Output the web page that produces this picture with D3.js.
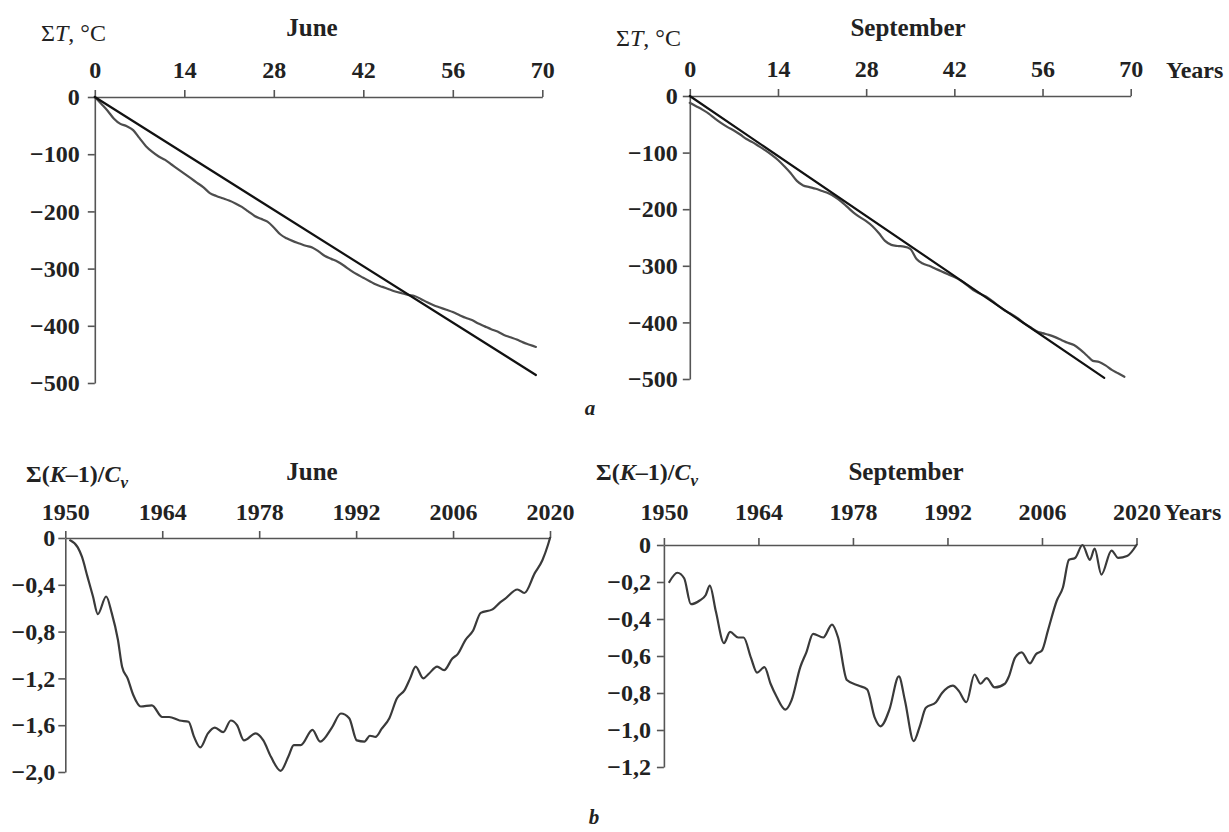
<!DOCTYPE html>
<html><head><meta charset="utf-8">
<script src="https://cdn.jsdelivr.net/npm/d3@7"></script>
<style>
html,body{margin:0;padding:0;background:#fff;}
svg{display:block;}
</style></head><body>
<svg id="chart" width="1229" height="832"></svg>
<script>
// ---------- data ----------
const yearTicksA = [0, 14, 28, 42, 56, 70];
const sumTTicks = [0, -100, -200, -300, -400, -500];
// cumulative temperature anomaly, index = year number 0..69
const juneSumT = [0,-12,-24,-38,-47,-51,-58,-72,-86,-96,-104,-110,-118,-126,-134,-142,-150,-158,-168,-173,
  -177,-181,-186,-192,-200,-208,-213,-218,-228,-240,-247,-252,-256,-260,-263,-270,-278,-283,-288,-295,
  -303,-310,-316,-322,-328,-332,-336,-340,-343,-346,-348,-353,-359,-364,-368,-372,-376,-381,-386,-390,
  -396,-401,-406,-410,-416,-420,-424,-429,-433,-437];
const juneTrendYears = [0, 69];
const juneTrendValues = [0, -486];
const septSumT = [-12,-18,-24,-31,-40,-48,-55,-61,-68,-76,-82,-89,-96,-104,-113,-124,-136,-150,-158,-161,
  -164,-168,-172,-178,-186,-196,-206,-214,-221,-230,-242,-256,-263,-265,-266,-270,-288,-296,-300,-305,
  -310,-315,-320,-326,-334,-343,-349,-354,-362,-371,-379,-385,-392,-401,-408,-415,-419,-422,-426,-431,
  -436,-440,-448,-458,-468,-470,-476,-484,-490,-496];
const septTrendYears = [0, 65.8];
const septTrendValues = [0, -498];

const yearTicksB = [1950, 1964, 1978, 1992, 2006, 2020];
const juneKTicks = [0, -0.4, -0.8, -1.2, -1.6, -2.0];
const septKTicks = [0, -0.2, -0.4, -0.6, -0.8, -1.0, -1.2];
const juneKYears = [1950.7,1951.8,1952.4,1953.2,1954.0,1954.7,1955.9,1956.7,1957.6,1958.2,1959.0,1959.8,1960.9,
  1962.5,1964.0,1965.0,1966.5,1967.8,1968.6,1969.5,1970.6,1971.6,1972.8,1973.9,1974.8,1975.8,1977.5,1978.6,
  1979.7,1981.1,1982.2,1983.0,1984.0,1985.7,1986.8,1988.5,1989.8,1991.0,1992.1,1993.2,1994.0,1994.8,1995.7,
  1996.8,1997.9,1999.0,1999.8,2000.6,2001.7,2002.5,2003.7,2004.7,2005.9,2006.7,2007.8,2008.9,2010.0,2011.7,
  2012.8,2013.5,2015.3,2016.3,2017.8,2018.9,2019.7,2020.0];
const juneKValues = [-0.02,-0.08,-0.16,-0.33,-0.50,-0.65,-0.50,-0.64,-0.87,-1.10,-1.20,-1.34,-1.44,
  -1.43,-1.53,-1.53,-1.56,-1.57,-1.70,-1.79,-1.67,-1.62,-1.66,-1.56,-1.60,-1.73,-1.67,-1.73,
  -1.87,-1.99,-1.87,-1.77,-1.77,-1.64,-1.74,-1.62,-1.50,-1.54,-1.73,-1.74,-1.69,-1.70,-1.63,
  -1.54,-1.37,-1.30,-1.20,-1.10,-1.20,-1.16,-1.10,-1.13,-1.03,-0.99,-0.87,-0.79,-0.64,-0.61,
  -0.55,-0.52,-0.44,-0.47,-0.30,-0.19,-0.06,0];
const septKYears = [1950.8,1952.0,1953.0,1954.0,1955.3,1956.2,1956.8,1957.7,1958.9,1959.8,1961.0,1961.8,1962.9,
  1963.8,1964.9,1965.8,1966.7,1968.0,1968.9,1970.2,1971.1,1972.1,1973.6,1974.9,1975.8,1977.1,1978.8,1980.1,
  1981.2,1982.1,1983.4,1984.8,1985.7,1987.0,1987.9,1988.8,1990.3,1991.2,1992.8,1993.7,1994.8,1996.0,1996.9,
  1997.8,1999.0,2000.5,2001.1,2002.0,2003.0,2004.2,2005.1,2006.0,2006.9,2008.2,2009.1,2010.0,2010.9,2012.0,
  2013.1,2013.8,2014.8,2016.3,2017.3,2018.6,2020.0];
const septKValues = [-0.20,-0.15,-0.18,-0.32,-0.30,-0.27,-0.22,-0.36,-0.53,-0.47,-0.50,-0.50,-0.61,
  -0.69,-0.66,-0.75,-0.82,-0.89,-0.84,-0.66,-0.58,-0.48,-0.50,-0.43,-0.50,-0.73,-0.76,-0.78,
  -0.93,-0.98,-0.89,-0.71,-0.84,-1.06,-0.98,-0.88,-0.85,-0.80,-0.76,-0.79,-0.85,-0.70,-0.75,
  -0.72,-0.77,-0.75,-0.71,-0.61,-0.58,-0.64,-0.59,-0.57,-0.46,-0.30,-0.23,-0.08,-0.07,0.0,
  -0.08,-0.02,-0.16,-0.03,-0.07,-0.06,0];

// ---------- drawing ----------
const svg = d3.select("#chart");
const FONT = "'Liberation Serif','Times New Roman',serif";
const AXIS = "#555";
const INK = "#222";
const TICK_FS = 24;
const fmtA = d => d === 0 ? "0" : "\u2212" + Math.abs(d);
const fmtB = d => d === 0 ? "0" : "\u2212" + Math.abs(d).toFixed(1).replace(".", ",");

function panel(o) {
  const x = d3.scaleLinear().domain(o.xDomain).range([o.x0, o.x1]);
  const y = d3.scaleLinear().domain(o.yDomain).range([o.y0, o.y1]);
  const gx = svg.append("g").attr("transform", `translate(0,${o.y0})`)
    .call(d3.axisTop(x).tickValues(o.xTicks).tickSize(7).tickSizeOuter(0)
      .tickPadding(o.xPad).tickFormat(d => d));
  const gy = svg.append("g").attr("transform", `translate(${o.x0},0)`)
    .call(d3.axisLeft(y).tickValues(o.yTicks).tickSize(7).tickSizeOuter(0)
      .tickPadding(o.yPad).tickFormat(o.yFmt));
  [gx, gy].forEach(g => {
    g.attr("font-family", FONT).attr("font-size", TICK_FS).attr("font-weight", "bold");
    g.selectAll("path.domain").attr("stroke", AXIS).attr("stroke-width", 1.6);
    g.selectAll(".tick line").attr("stroke", AXIS).attr("stroke-width", 1.6);
    g.selectAll(".tick text").attr("fill", INK);
  });
  return { x, y };
}

function drawLine(sc, xs, ys, color, width, curve) {
  const pts = xs.map((d, i) => [d, ys[i]]);
  svg.append("path").datum(pts)
    .attr("fill", "none").attr("stroke", color).attr("stroke-width", width)
    .attr("stroke-linejoin", "round").attr("stroke-linecap", "round")
    .attr("d", d3.line().x(d => sc.x(d[0])).y(d => sc.y(d[1])).curve(curve));
}

function text(x, y, parts, opts = {}) {
  const t = svg.append("text").attr("x", x).attr("y", y)
    .attr("font-family", FONT).attr("font-size", opts.size || 24)
    .attr("font-weight", opts.weight || "bold").attr("fill", INK)
    .attr("text-anchor", opts.anchor || "start");
  parts.forEach(p => {
    const s = t.append("tspan").text(p.t);
    if (p.i) s.attr("font-style", "italic");
    if (p.w) s.attr("font-weight", p.w);
    if (p.dy) s.attr("dy", p.dy);
    if (p.fs) s.attr("font-size", p.fs);
  });
  return t;
}

// June (a)
const ja = panel({ x0: 94.8, x1: 542.3, y0: 97, y1: 383, xDomain: [0, 70], yDomain: [0, -500],
  xTicks: yearTicksA, yTicks: sumTTicks, yFmt: fmtA, xPad: 12, yPad: 8 });
drawLine(ja, juneSumT.map((d, i) => i), juneSumT, "#4d4d4d", 2.2, d3.curveMonotoneX);
drawLine(ja, juneTrendYears, juneTrendValues, "#111", 2.2, d3.curveLinear);

// September (a)
const sa = panel({ x0: 689.8, x1: 1130.7, y0: 96, y1: 379, xDomain: [0, 70], yDomain: [0, -500],
  xTicks: yearTicksA, yTicks: sumTTicks, yFmt: fmtA, xPad: 12, yPad: 5 });
drawLine(sa, septSumT.map((d, i) => i), septSumT, "#4d4d4d", 2.2, d3.curveMonotoneX);
drawLine(sa, septTrendYears, septTrendValues, "#111", 2.2, d3.curveLinear);

// June (b)
const jb = panel({ x0: 65.3, x1: 550, y0: 538, y1: 772, xDomain: [1950, 2020], yDomain: [0, -2.0],
  xTicks: yearTicksB, yTicks: juneKTicks, yFmt: fmtB, xPad: 11, yPad: 3 });
drawLine(jb, juneKYears, juneKValues, "#3a3a3a", 2.2, d3.curveMonotoneX);

// September (b)
const sb = panel({ x0: 663.9, x1: 1136.5, y0: 545, y1: 767, xDomain: [1950, 2020], yDomain: [0, -1.2],
  xTicks: yearTicksB, yTicks: septKTicks, yFmt: fmtB, xPad: 18, yPad: 6 });
drawLine(sb, septKYears, septKValues, "#3a3a3a", 2.2, d3.curveMonotoneX);

// titles and labels
text(312, 36, [{ t: "June" }], { anchor: "middle", size: 25 });
text(908, 36, [{ t: "September" }], { anchor: "middle", size: 25 });
text(312, 480, [{ t: "June" }], { anchor: "middle", size: 25 });
text(906, 480, [{ t: "September" }], { anchor: "middle", size: 25 });

text(41, 41, [{ t: "\u03A3" }, { t: "T", i: true }, { t: ", \u00B0C" }], { weight: "normal" });
text(616, 46, [{ t: "\u03A3" }, { t: "T", i: true }, { t: ", \u00B0C" }], { weight: "normal" });

const kLabel = [{ t: "\u03A3(" }, { t: "K", i: true }, { t: "\u20131)/" }, { t: "C", i: true },
  { t: "v", i: true, dy: 6, fs: 17 }];
text(26, 482, kLabel);
text(596, 480, kLabel);

text(1166, 78, [{ t: "Years" }]);
text(1164, 520, [{ t: "Years" }]);

text(590, 415, [{ t: "a", i: true }], { anchor: "middle", size: 21 });
text(594, 824, [{ t: "b", i: true }], { anchor: "middle", size: 21 });
</script>
</body></html>
